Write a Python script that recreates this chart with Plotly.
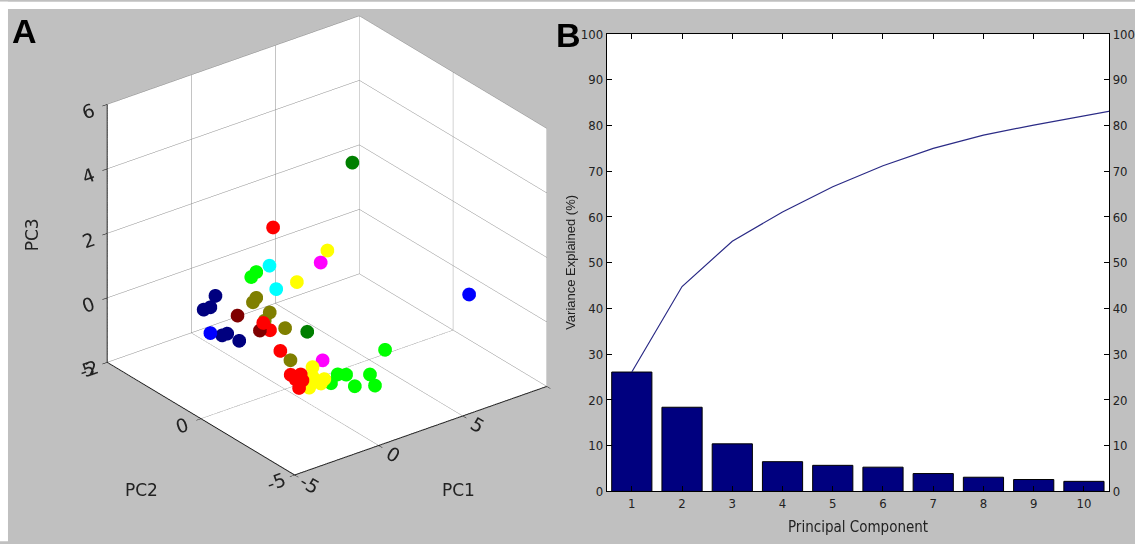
import plotly.graph_objects as go

# ---------------- Panel A data (PC scores) ----------------
groups = ["red", "yellow", "magenta", "cyan", "lime", "navy", "blue", "olive", "maroon", "darkgreen"]
group_colors = {
    "red": "#ff0000", "yellow": "#ffff00", "magenta": "#ff00ff", "cyan": "#00ffff",
    "lime": "#00ff00", "navy": "#00007f", "blue": "#0000ff", "olive": "#7f7f00",
    "maroon": "#7f0000", "darkgreen": "#007f00",
}
pc1 = {
    "red": [0.4, -1.3, -0.9, -1.4, -1.9, -1.3, -1.6, -1.4, -1.2],
    "yellow": [1.4, 0.7, -0.6, -0.6, 0.1, -0.1, -0.8],
    "magenta": [1.0, 0.0],
    "cyan": [1.3, 1.7],
    "lime": [-0.6, -0.9, 2.6, 0.5, 0.9, 1.4, 0.8, 1.7, 2.0],
    "navy": [-0.8, -1.1, -1.5, -0.4, -0.1, -0.5],
    "blue": [-1.1, 7.6],
    "olive": [-0.6, -0.8, 0.2, -0.1, 0.0, -0.8],
    "maroon": [-0.6, -1.5],
    "darkgreen": [4.0, 0.2],
}
pc2 = {
    "red": [1, 0, 0, -1, -2, -2, -2, -2, -2],
    "yellow": [-1, 0, -2, -2, -2, -2, -2],
    "magenta": [-1, -2],
    "cyan": [2, 2],
    "lime": [1, 1, -3, -2, -2, -2, -3, -3, -3],
    "navy": [3, 3, 3, 3, 3, 2],
    "blue": [3, -3],
    "olive": [1, 1, 1, 1, 0, -1],
    "maroon": [2, 0],
    "darkgreen": [0, -1],
}
pc3 = {
    "red": [2.6, 0.3, 0.0, -0.2, -0.5, -0.6, -0.7, -1.0, -0.8],
    "yellow": [2.4, 1.2, -0.5, -0.8, -1.0, -1.1, -1.1],
    "magenta": [2.1, -0.4],
    "cyan": [0.9, 0.1],
    "lime": [1.4, 1.3, -0.2, -1.2, -1.0, -1.1, -1.0, -0.8, -1.2],
    "navy": [0.0, -0.3, -0.3, -1.3, -1.3, -1.1],
    "blue": [-1.1, 0.6],
    "olive": [0.6, 0.5, 0.0, -0.2, -0.1, -0.6],
    "maroon": [-0.3, 0.1],
    "darkgreen": [4.3, 0.1],
}

# ---------------- Panel B data ----------------
components = [1, 2, 3, 4, 5, 6, 7, 8, 9, 10]
variance = [26.1, 18.4, 10.4, 6.5, 5.7, 5.3, 3.9, 3.1, 2.6, 2.2]
cum_components = [1, 2, 3, 4, 5, 6, 7, 8, 9, 10, 11]
cumulative = [26.1, 44.8, 54.7, 61.1, 66.6, 71.2, 75.0, 77.9, 80.1, 82.1, 84.1]
y_ticks = [0, 10, 20, 30, 40, 50, 60, 70, 80, 90, 100]

W, H = 1135, 544
GRAY = "#c0c0c0"
NARROW = "Liberation Sans Narrow, DejaVu Sans Condensed, Arial Narrow, sans-serif"
WIDE = "DejaVu Sans, Liberation Sans, Arial, sans-serif"
ARIAL = "Liberation Sans, Arial, sans-serif"


def fy(py):
    # vertical page position -> paper fraction (compensates the observed 8px/0.971 capture offset)
    return 1 - ((py - 8) / 0.971) / H


fig = go.Figure()

for g in groups:
    fig.add_trace(go.Scatter3d(
        x=pc1[g], y=pc2[g], z=pc3[g], mode="markers",
        marker=dict(size=8, color=group_colors[g], line=dict(width=0), opacity=1),
        showlegend=False, hoverinfo="skip", scene="scene",
    ))

fig.add_trace(go.Bar(
    x=components, y=variance, width=0.8,
    marker=dict(color="#00007f", line=dict(color="black", width=1)),
    showlegend=False, xaxis="x", yaxis="y",
))
fig.add_trace(go.Scatter(
    x=cum_components, y=cumulative, mode="lines",
    line=dict(color="#2b2b86", width=1.2),
    showlegend=False, xaxis="x", yaxis="y2", cliponaxis=True,
))

def ax3d(rng, tickvals, ticktext):
    return dict(
        title=dict(text=""),
        range=rng, autorange=False, tickvals=tickvals, ticktext=ticktext,
        tickfont=dict(family=WIDE, size=15, color="#222"),
        showgrid=True, gridcolor="#8a8a8a", gridwidth=1,
        showbackground=True, backgroundcolor="white",
        showline=True, linecolor="black", linewidth=2,
        ticks="outside", ticklen=6, tickcolor="black",
        zeroline=False, showspikes=False,
    )

def ann(text, px, py, size, family, angle=0, color="#222"):
    return dict(text=text, x=px / W, y=fy(py), xref="paper", yref="paper",
                xanchor="center", yanchor="middle", textangle=angle, showarrow=False,
                font=dict(family=family, size=size, color=color))

D = 1.6
CZ = -0.111
fig.update_layout(
    width=W, height=H, autosize=False,
    margin=dict(l=0, r=0, t=0, b=0),
    paper_bgcolor=GRAY,
    plot_bgcolor="white",
    scene=dict(
        domain=dict(x=[0.0085, 0.5685], y=[0.0, 1.0]),
        xaxis=ax3d([-5, 10], [-5, 0, 5, 10], ["-5", "0", "5", ""]),
        yaxis=ax3d([-5, 5], [-5, 0, 5], ["-5", "0", "5"]),
        zaxis=ax3d([-2, 6], [-2, 0, 2, 4, 6], ["-2", "0", "2", "4", "6"]),
        aspectmode="manual",
        aspectratio=dict(x=1.2, y=1.167, z=1.098),
        camera=dict(
            eye=dict(x=-0.539 * D, y=-0.705 * D, z=0.459 * D + CZ),
            center=dict(x=0, y=0, z=CZ),
            up=dict(x=0, y=0, z=1),
            projection=dict(type="orthographic"),
        ),
        bgcolor="rgba(0,0,0,0)",
    ),
    xaxis=dict(
        domain=[608.3 / W, 1112 / W], range=[0.5, 10.5], tickvals=components,
        ticks="inside", ticklen=5, tickcolor="black", mirror="ticks",
        showline=True, linecolor="black", linewidth=1, showgrid=False, zeroline=False,
        tickfont=dict(family=NARROW, size=13, color="#222"),
        anchor="y",
    ),
    yaxis=dict(
        domain=[fy(491.7), fy(35)], range=[0, 100], tickvals=y_ticks,
        ticks="inside", ticklen=5, tickcolor="black",
        showline=True, linecolor="black", linewidth=1, showgrid=False, zeroline=False,
        tickfont=dict(family=NARROW, size=13, color="#222"),
        anchor="x",
    ),
    yaxis2=dict(
        overlaying="y", side="right", range=[0, 100], tickvals=y_ticks,
        ticksuffix="%", ticks="inside", ticklen=5, tickcolor="black",
        showline=True, linecolor="black", linewidth=1, showgrid=False, zeroline=False,
        tickfont=dict(family=NARROW, size=13, color="#222"),
        anchor="x",
    ),
    shapes=[
        dict(type="rect", xref="paper", yref="paper", x0=-0.01, x1=1.01, y0=fy(10), y1=1.01,
             fillcolor="white", line=dict(width=0), layer="above"),
        dict(type="rect", xref="paper", yref="paper", x0=-0.01, x1=8 / W, y0=-0.01, y1=1.01,
             fillcolor="white", line=dict(width=0), layer="above"),
    ],
    annotations=[
        ann("<b>A</b>", 25, 32, 34, ARIAL, color="black"),
        ann("<b>B</b>", 570, 36, 34, ARIAL, color="black"),
        ann("PC1", 460, 490, 17, WIDE),
        ann("PC2", 142, 490, 17, WIDE),
        ann("PC3", 32, 235, 17, WIDE, angle=-90),
        ann("Variance Explained (%)", 572, 263, 13, ARIAL, angle=-90),
        ann("Principal Component", 860, 527, 15, NARROW),
    ],
    bargap=0.2,
)

fig.write_html(
    "out.html",
    config={"displayModeBar": False, "responsive": False},
    post_script=(
        "document.documentElement.style.margin='0';document.body.style.margin='0';"
        "document.body.style.overflow='hidden';"
        "var gd=document.getElementById('{plot_id}');"
        "gd.style.position='fixed';gd.style.top='0px';gd.style.left='0px';"
        "Plotly.relayout(gd,{width:1135,height:544});"
    ),
)
